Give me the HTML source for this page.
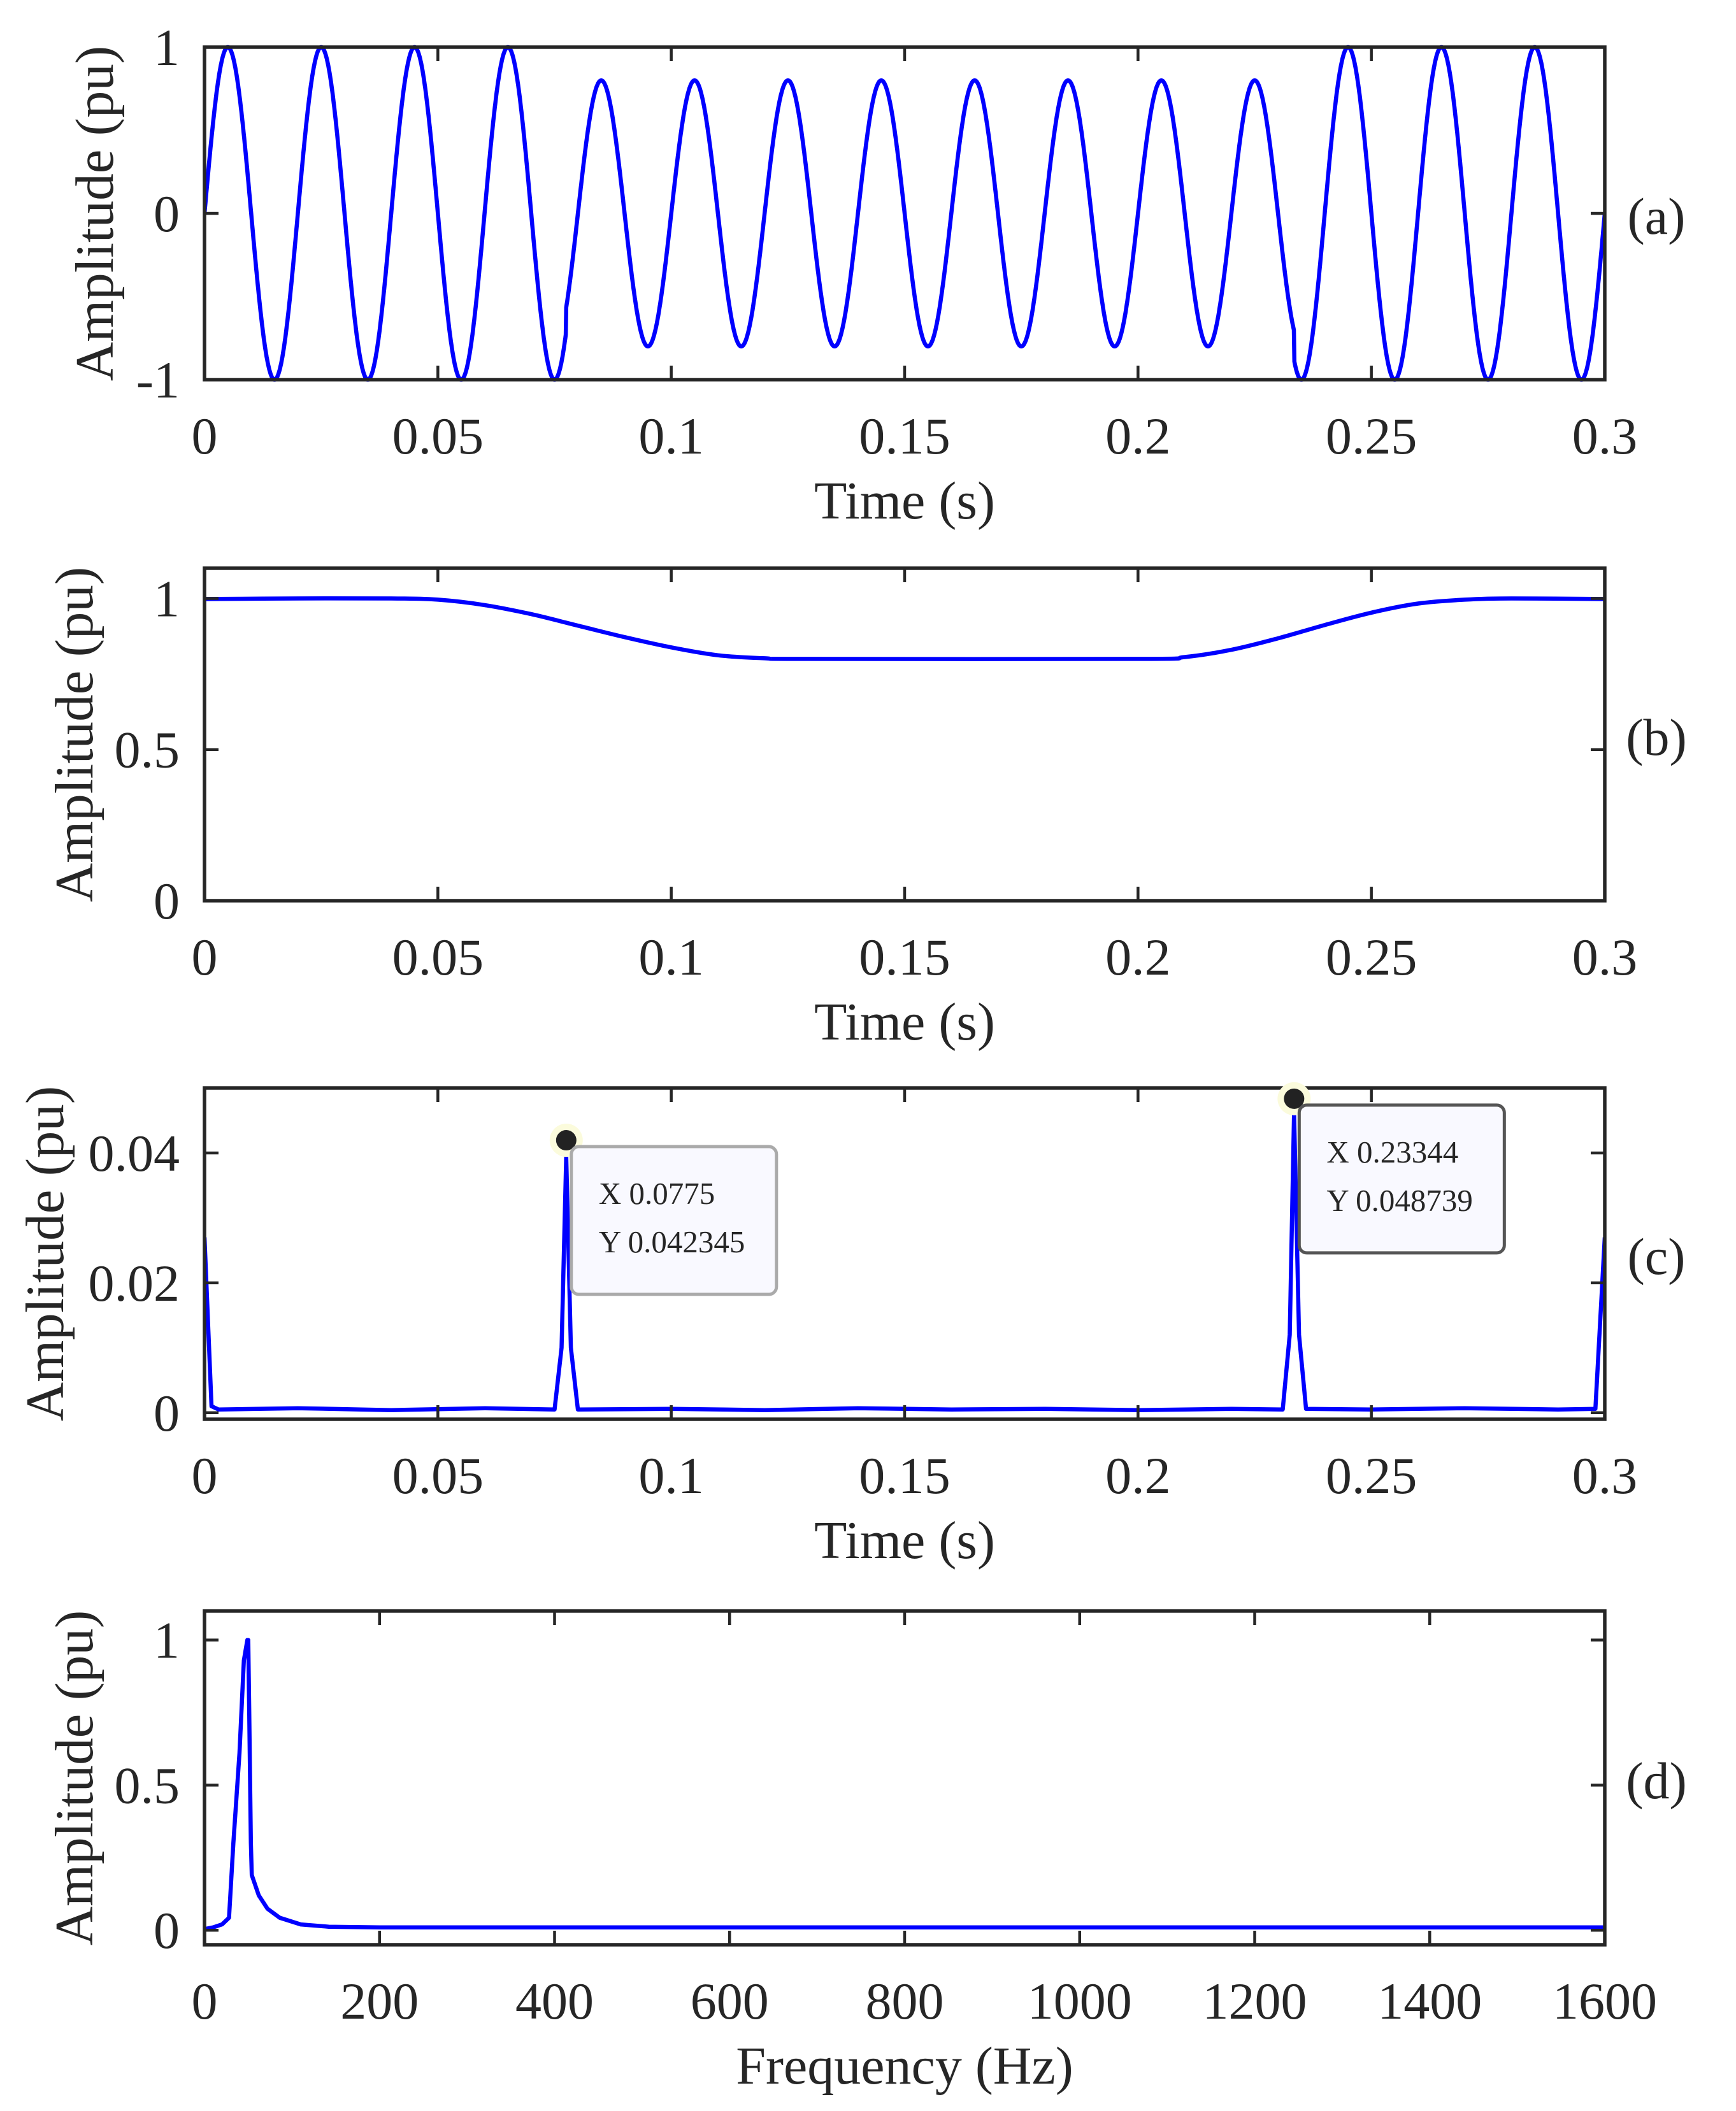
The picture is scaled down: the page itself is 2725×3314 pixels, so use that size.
<!DOCTYPE html>
<html><head><meta charset="utf-8">
<style>
html,body{margin:0;padding:0;background:#fff;}
svg{display:block;}
text{font-family:"Liberation Serif",serif;fill:#262626;}
</style></head>
<body>
<svg id="fig" width="2725" height="3314" viewBox="0 0 2725 3314" xmlns="http://www.w3.org/2000/svg"></svg>
<script>
// ---------- data ----------
const waveFreq = 50;
const envTimes = [0, 0.0775, 0.0775, 0.23344, 0.23344, 0.3];
const envValues = [1, 1, 0.8, 0.8, 1, 1];

const bTimes = [0,0.02,0.04,0.05,0.06,0.07,0.08,0.09,0.1,0.11,0.12,0.13,0.2,0.21,0.22,0.23,0.24,0.25,0.26,0.27,0.28,0.3];
const bValues = [0.998,1,1,0.996,0.978,0.948,0.91,0.872,0.838,0.812,0.802,0.8,0.8,0.806,0.83,0.868,0.912,0.953,0.983,0.996,1,0.998];

const cTimes = [0,0.0015,0.003,0.02,0.04,0.06,0.075,0.0765,0.0775,0.0785,0.08,0.1,0.12,0.14,0.16,0.18,0.2,0.22,0.231,0.2325,0.23344,0.2345,0.236,0.25,0.27,0.29,0.298,0.3];
const cValues = [0.027,0.001,0.0005,0.0007,0.0004,0.0007,0.0005,0.01,0.0395,0.01,0.0005,0.0006,0.0004,0.0007,0.0005,0.0006,0.0004,0.0006,0.0005,0.012,0.0462,0.012,0.0006,0.0005,0.0007,0.0005,0.0006,0.027];

const dFreqs = [0,10,20,28,33,40,45,49,50,51,53,54,62,72,86,110,142,200,600,1000,1600];
const dValues = [0.004,0.01,0.02,0.043,0.3,0.61,0.93,1.0,1.0,0.77,0.3,0.19,0.12,0.074,0.043,0.02,0.012,0.01,0.01,0.01,0.01];

const timeTicks = [0,0.05,0.1,0.15,0.2,0.25,0.3];
const timeTickLabels = ["0","0.05","0.1","0.15","0.2","0.25","0.3"];
const freqTicks = [0,200,400,600,800,1000,1200,1400,1600];
const freqTickLabels = ["0","200","400","600","800","1000","1200","1400","1600"];
const aYTicks=[-1,0,1], aYLabels=["-1","0","1"];
const bYTicks=[0,0.5,1], bYLabels=["0","0.5","1"];
const cYTicks=[0,0.02,0.04], cYLabels=["0","0.02","0.04"];
const dYTicks=[0,0.5,1], dYLabels=["0","0.5","1"];
const tipX = [0.0775, 0.23344];
const tipY = [0.042345, 0.048739];
const tipXText = ["0.0775","0.23344"];
const tipYText = ["0.042345","0.048739"];

// ---------- drawing ----------
const NS="http://www.w3.org/2000/svg";
const svg=document.getElementById('fig');
function el(tag, attrs, parent){const e=document.createElementNS(NS,tag);for(const k in attrs)e.setAttribute(k,attrs[k]);(parent||svg).appendChild(e);return e;}
const L=321,R=2519;

function panel(cfg){
  const g=el('g',{});
  
  
  const sx=v=>L+(v-cfg.xmin)/(cfg.xmax-cfg.xmin)*(R-L);
  const sy=v=>cfg.bot-(v-cfg.ymin)/(cfg.ymax-cfg.ymin)*(cfg.bot-cfg.top);
  const P=cfg.xs.map((x,i)=>[sx(x),sy(cfg.ys[i])]);
  let d='M'+P[0][0].toFixed(1)+' '+P[0][1].toFixed(1);
  if(cfg.smooth){
    for(let i=0;i<P.length-1;i++){
      const p0=P[Math.max(0,i-1)],p1=P[i],p2=P[i+1],p3=P[Math.min(P.length-1,i+2)];
      const c1=[p1[0]+(p2[0]-p0[0])/6,p1[1]+(p2[1]-p0[1])/6];
      const c2=[p2[0]-(p3[0]-p1[0])/6,p2[1]-(p3[1]-p1[1])/6];
      d+='C'+c1[0].toFixed(1)+' '+c1[1].toFixed(1)+' '+c2[0].toFixed(1)+' '+c2[1].toFixed(1)+' '+p2[0].toFixed(1)+' '+p2[1].toFixed(1);
    }
  } else {
    for(let i=1;i<P.length;i++) d+='L'+P[i][0].toFixed(1)+' '+P[i][1].toFixed(1);
  }
  const cp=el('clipPath',{id:'cp'+cfg.id},g);
  el('rect',{x:L,y:cfg.top-5,width:R-L,height:cfg.bot-cfg.top+10},cp);
  const p=el('path',{d:d,fill:'none',stroke:'#0000ff','stroke-width':6.5,'stroke-linejoin':'round','clip-path':'url(#cp'+cfg.id+')'},g);
  
  
  const box=el('rect',{x:L,y:cfg.top,width:R-L,height:cfg.bot-cfg.top,fill:'none',stroke:'#262626','stroke-width':5.5},g);
  
  
  cfg.xt.forEach((v,i)=>{
    const x=sx(v);
    el('line',{x1:x,x2:x,y1:cfg.bot,y2:cfg.bot-22,stroke:'#262626','stroke-width':4.5},g);
    el('line',{x1:x,x2:x,y1:cfg.top,y2:cfg.top+22,stroke:'#262626','stroke-width':4.5},g);
    const t=el('text',{x:x,y:cfg.bot+116,'font-size':82,'text-anchor':'middle'},g);
    t.textContent=cfg.xl[i];
    
    
  });
  cfg.yt.forEach((v,i)=>{
    const y=sy(v);
    el('line',{x1:L,x2:L+22,y1:y,y2:y,stroke:'#262626','stroke-width':4.5},g);
    el('line',{x1:R,x2:R-22,y1:y,y2:y,stroke:'#262626','stroke-width':4.5},g);
    const t=el('text',{x:282,y:y+28,'font-size':82,'text-anchor':'end'},g);
    t.textContent=cfg.yl[i];
    
    
  });
  const xt=el('text',{x:(L+R)/2,y:cfg.bot+218,'font-size':84,'text-anchor':'middle'},g);
  xt.textContent=cfg.xtitle;
  
  
  const cy=(cfg.top+cfg.bot)/2;
  const yt=el('text',{x:0,y:0,'font-size':85,'text-anchor':'middle',transform:'translate('+(cfg.ytx+29)+','+cy+') rotate(-90)'},g);
  yt.textContent='Amplitude (pu)';
  
  
  const pl=el('text',{x:2600,y:cy+32,'font-size':82,'text-anchor':'middle'},g);
  pl.textContent='('+cfg.id+')';
  
  
  return {g,sx,sy};
}

function envAt(t){
  for(let i=1;i<envTimes.length;i++){ if(t<envTimes[i]) return envValues[i-1]; }
  return envValues[envValues.length-1];
}
const aX=[],aY=[];
for(let i=0;i<=3000;i++){const t=i*0.3/3000;aX.push(t);aY.push(envAt(t)*Math.sin(2*Math.PI*waveFreq*t));}

panel({id:'a',name:'panel-a-signal',top:74,bot:596,xmin:0,xmax:0.3,ymin:-1,ymax:1,xs:aX,ys:aY,xt:timeTicks,xl:timeTickLabels,yt:aYTicks,yl:aYLabels,xtitle:'Time (s)',ytx:148});
panel({id:'b',name:'panel-b-envelope',top:892,bot:1414,xmin:0,xmax:0.3,ymin:0,ymax:1.1,xs:bTimes,ys:bValues,smooth:true,xt:timeTicks,xl:timeTickLabels,yt:bYTicks,yl:bYLabels,xtitle:'Time (s)',ytx:116});
const pc=panel({id:'c',name:'panel-c-detection',top:1708,bot:2228,xmin:0,xmax:0.3,ymin:-0.001,ymax:0.05,xs:cTimes,ys:cValues,xt:timeTicks,xl:timeTickLabels,yt:cYTicks,yl:cYLabels,xtitle:'Time (s)',ytx:70});
panel({id:'d',name:'panel-d-spectrum',top:2529,bot:3053,xmin:0,xmax:1600,ymin:-0.05,ymax:1.1,xs:dFreqs,ys:dValues,xt:freqTicks,xl:freqTickLabels,yt:dYTicks,yl:dYLabels,xtitle:'Frequency (Hz)',ytx:116});

const tipStroke=['#aaaaaa','#555555'];
tipX.forEach((xv,i)=>{
  const g=el('g',{});
  
  
  const mx=pc.sx(xv), my=pc.sy(tipY[i])+4;
  el('circle',{cx:mx,cy:my,r:26,fill:'#fbfbdc'},g);
  const m=el('circle',{cx:mx,cy:my,r:16,fill:'#222'},g);
  
  
  const bx=mx+8, by=my+10;
  const r=el('rect',{x:bx,y:by,width:322,height:232,rx:12,fill:'#f9f9ff',stroke:tipStroke[i],'stroke-width':5},g);
  
  
  const t1=el('text',{x:bx+43,y:by+90,'font-size':49,fill:'#333'},g);
  t1.textContent='X '+tipXText[i];
  
  
  const t2=el('text',{x:bx+43,y:by+166,'font-size':49,fill:'#333'},g);
  t2.textContent='Y '+tipYText[i];
  
  
});
</script>
</body></html>
